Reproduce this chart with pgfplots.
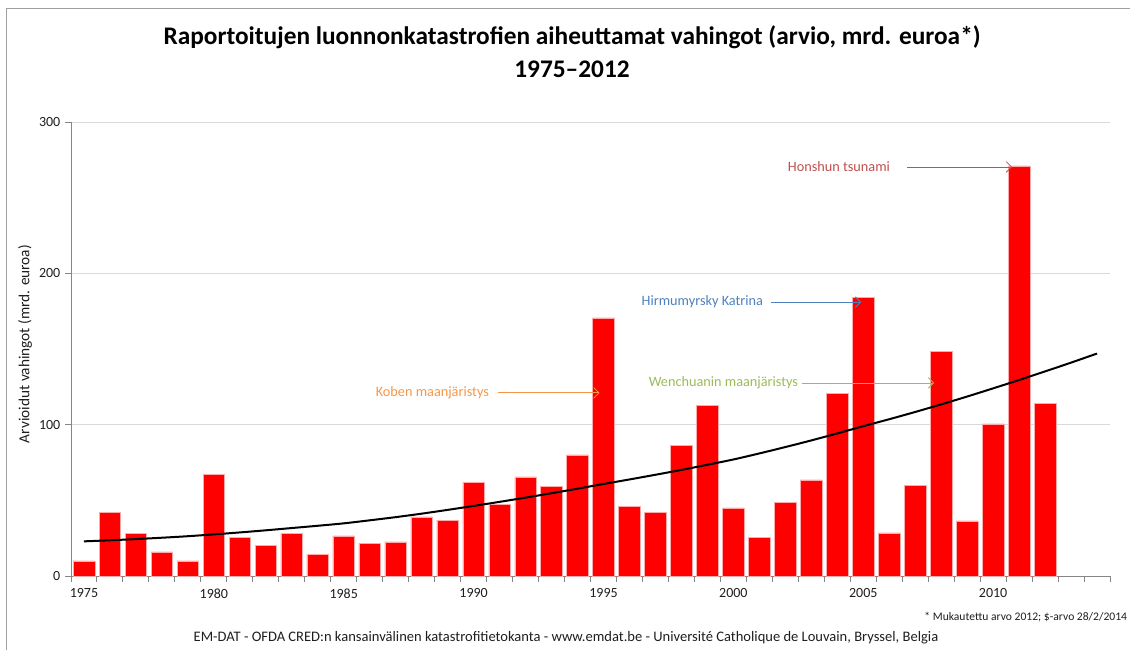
\documentclass[border=0pt]{standalone}
\usepackage{fontspec}
\setmainfont{Carlito}
\usepackage{pgfplots}
\pgfplotsset{compat=1.18}
\usetikzlibrary{arrows.meta}
\definecolor{barred}{RGB}{255,0,0}
\definecolor{baredge}{RGB}{255,170,170}
\definecolor{gridgray}{RGB}{217,217,217}
\definecolor{axgray}{RGB}{134,134,134}
\definecolor{framegray}{RGB}{160,160,160}
\definecolor{txt}{RGB}{30,30,30}
\definecolor{anorange}{RGB}{247,150,70}
\definecolor{anblue}{RGB}{79,129,189}
\definecolor{angreen}{RGB}{155,187,89}
\definecolor{anred}{RGB}{192,80,77}
\begin{document}
\begin{tikzpicture}
\useasboundingbox (0,0) rectangle (847.5pt,-487.5pt);
% frame
\draw[framegray, line width=0.75pt] (4.5pt,-487.5pt) -- (4.5pt,-6pt) -- (847.5pt,-6pt);
\begin{axis}[
  at={(53.25pt,-432pt)}, anchor=south west,
  scale only axis, width=779.25pt, height=340.5pt,
  xmin=1974.5, xmax=2014.5, ymin=0, ymax=300,
  axis lines*=left,
  axis line style={axgray, line width=0.75pt},
  ymajorgrids, grid style={gridgray, line width=0.75pt},
  ytick={0,100,200,300},
  xtick={1975,1980,...,2010},
  minor xtick={1974.5,1975.5,...,2014.5},
  major x tick style={draw=none},
  minor x tick style={axgray, line width=0.75pt},
  y tick style={axgray, line width=0.75pt},
  tick align=outside,
  major tick length=4.5pt, minor tick length=4.5pt,
  tick label style={font=\fontsize{10.5}{12}\selectfont, text=txt},
  xticklabel style={yshift=-1.5pt},
  /pgf/number format/assume math mode=true,
  /pgf/number format/1000 sep={},
  ylabel={Arvioidut vahingot (mrd. euroa)},
  ylabel style={font=\fontsize{11.5}{13}\selectfont, text=txt, at={(axis description cs:-0.0443,0.511)}, anchor=center, rotate=0},
  clip=false,
]
\addplot[ybar, bar width=16.2pt, fill=barred, draw=baredge, line width=0.4pt] coordinates {
(1975,10) (1976,42) (1977,28) (1978,16) (1979,10) (1980,67) (1981,25.5) (1982,20)
(1983,28) (1984,14.5) (1985,26.5) (1986,21.5) (1987,22.5) (1988,39) (1989,37)
(1990,62) (1991,47.5) (1992,65.5) (1993,59) (1994,80) (1995,170.5) (1996,46)
(1997,42) (1998,86.5) (1999,113) (2000,45) (2001,25.5) (2002,48.5) (2003,63.5)
(2004,120.5) (2005,184) (2006,28.5) (2007,60) (2008,148.5) (2009,36.5) (2010,100.5)
(2011,271) (2012,114)
};
\addplot[black, line width=1.5pt, smooth, mark=none] coordinates {
(1975,22.9) (1976,23.6) (1977,24.4) (1978,25.3) (1979,26.3) (1980,27.5)
(1981,28.8) (1982,30.2) (1983,31.7) (1984,33.2) (1985,34.8) (1986,36.8)
(1987,38.9) (1988,41.2) (1989,43.7) (1990,46.3) (1991,49.0) (1992,51.8)
(1993,54.7) (1994,57.7) (1995,60.8) (1996,63.8) (1997,66.9) (1998,70.1)
(1999,73.5) (2000,77.0) (2001,81.0) (2002,85.2) (2003,89.6) (2004,94.2)
(2005,99.0) (2006,103.6) (2007,108.4) (2008,113.4) (2009,118.6) (2010,124.0)
(2011,129.5) (2012,135.2) (2013,141.0) (2014,147.0)
};
% annotations
\node[anchor=east, text=anorange, font=\fontsize{10.7}{12}\selectfont, inner sep=0pt] at (axis cs:1990.6,121) {Koben maanjäristys};
\draw[anorange, line width=0.6pt, -{Straight Barb[length=4pt,width=8pt]}] (axis cs:1990.95,121) -- (axis cs:1994.85,121);
\node[anchor=east, text=anblue, font=\fontsize{10.7}{12}\selectfont, inner sep=0pt] at (axis cs:2001.15,181) {Hirmumyrsky Katrina};
\draw[anblue, line width=0.6pt, -{Straight Barb[length=4pt,width=8pt]}] (axis cs:2001.46,181) -- (axis cs:2004.92,181);
\node[anchor=east, text=angreen, font=\fontsize{10.7}{12}\selectfont, inner sep=0pt] at (axis cs:2002.5,127.6) {Wenchuanin maanjäristys};
\draw[angreen, line width=0.6pt, -{Straight Barb[length=4pt,width=8pt]}] (axis cs:2002.65,127.6) -- (axis cs:2007.73,127.6);
\node[anchor=east, text=anred, font=\fontsize{10.7}{12}\selectfont, inner sep=0pt] at (axis cs:2006.04,270.3) {Honshun tsunami};
\draw[anred, line width=0.6pt, -{Straight Barb[length=4pt,width=8pt]}] (axis cs:2006.7,270.3) -- (axis cs:2010.73,270.3);
\end{axis}
% title
\node[anchor=base, font=\bfseries\fontsize{19}{22}\selectfont, text=black, inner sep=0pt] at (429pt,-33pt) {Raportoitujen luonnonkatastrofien aiheuttamat vahingot (arvio, mrd. euroa*)};
\node[anchor=base, font=\bfseries\fontsize{19}{22}\selectfont, text=black, inner sep=0pt] at (429pt,-57.75pt) {1975–2012};
% footnotes
\node[anchor=east, font=\fontsize{8.7}{10}\selectfont, text=txt, inner sep=0pt] at (845.5pt,-462.75pt) {* Mukautettu arvo 2012; \$-arvo 28/2/2014};
\node[font=\fontsize{10.9}{12}\selectfont, text=txt, inner sep=0pt] at (424.5pt,-478.5pt) {EM-DAT - OFDA CRED:n kansainvälinen katastrofitietokanta - www.emdat.be - Université Catholique de Louvain, Bryssel, Belgia};
\end{tikzpicture}
\end{document}
